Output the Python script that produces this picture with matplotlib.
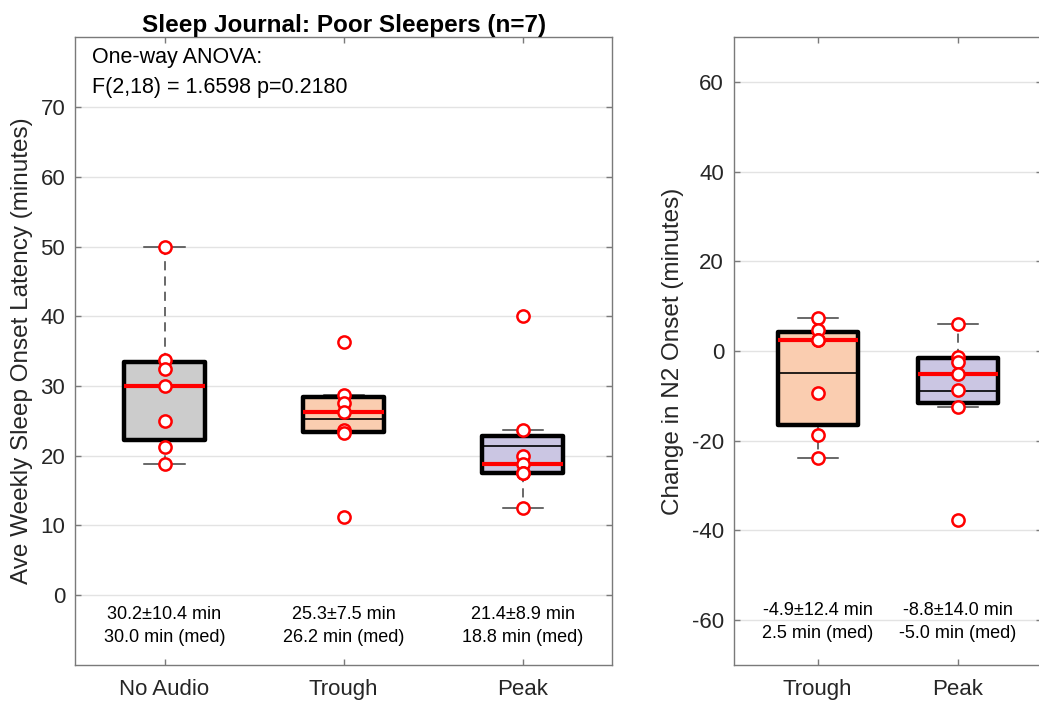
import numpy as np
import matplotlib
matplotlib.use("Agg")
import matplotlib.pyplot as plt

plt.rcParams['font.family'] = ['Liberation Sans', 'DejaVu Sans']
plt.rcParams['axes.unicode_minus'] = False

# weekly sleep onset latency per subject (minutes)
conditions = ['No Audio', 'Trough', 'Peak']
no_audio = [50.0, 33.75, 32.5, 30.0, 25.0, 21.25, 18.75]
trough = [36.25, 28.75, 27.5, 26.25, 23.75, 23.25, 11.25]
peak = [40.0, 23.75, 20.0, 18.75, 17.5, 17.5, 12.5]

# change in N2 onset relative to no audio (minutes)
change_labels = ['Trough', 'Peak']
change_trough = [7.5, 4.75, 2.5, 2.5, -9.25, -18.75, -23.75]
change_peak = [6.0, -1.25, -2.5, -5.0, -8.75, -12.5, -37.75]

anova_text = ['One-way ANOVA:', 'F(2,18) = 1.6598 p=0.2180']

fill_colors = ['#cccccc', '#facdb0', '#cbc6e3']
tick_col = '#262626'
spine_col = '#7a7a7a'


def box_stats(vals):
    v = np.asarray(vals, dtype=float)
    q1, med, q3 = np.percentile(v, [25, 50, 75], method='hazen')
    iqr = q3 - q1
    lo = v[v >= q1 - 1.5 * iqr].min()
    hi = v[v <= q3 + 1.5 * iqr].max()
    return dict(med=med, q1=q1, q3=q3, whislo=lo, whishi=hi,
                mean=v.mean(), fliers=[])


def draw_panel(ax, groups, labels, colors, width, stat_y):
    stats = [box_stats(g) for g in groups]
    pos = np.arange(1, len(groups) + 1)
    bp = ax.bxp(stats, positions=pos, widths=width, capwidths=width * 0.5,
                patch_artist=True, showmeans=True, meanline=True,
                showfliers=False,
                boxprops=dict(linewidth=3.2, edgecolor='black', zorder=2),
                medianprops=dict(color='red', linewidth=3, zorder=4,
                                 solid_capstyle='butt'),
                meanprops=dict(color='black', linestyle='-', linewidth=1.2,
                               zorder=3),
                whiskerprops=dict(color='#404040', linewidth=1.1,
                                  linestyle=(0, (6, 4)), zorder=1.5),
                capprops=dict(color='#404040', linewidth=1.1, zorder=1.5))
    for patch, c in zip(bp['boxes'], colors):
        patch.set_facecolor(c)
        patch.set_joinstyle('round')
    for p, g in zip(pos, groups):
        ax.plot(np.full(len(g), p), g, 'o', ms=8.8, mfc='white', mec='red',
                mew=1.8, zorder=5, clip_on=False)
        g = np.asarray(g, dtype=float)
        ax.text(p, stat_y[0], f"{g.mean():.1f}\u00b1{g.std(ddof=1):.1f} min",
                ha='center', va='baseline', fontsize=13)
        ax.text(p, stat_y[1], f"{np.median(g):.1f} min (med)",
                ha='center', va='baseline', fontsize=13)
    ax.set_xticks(pos)
    ax.set_xticklabels(labels)
    ax.set_xlim(pos[0] - 0.5 - (0.1 if len(groups) == 2 else 0),
                pos[-1] + 0.5 + (0.1 if len(groups) == 2 else 0))
    ax.yaxis.grid(True, color='#e3e3e3', linewidth=1)
    ax.set_axisbelow(True)
    ax.tick_params(direction='in', length=4, width=1, color=spine_col,
                   labelcolor=tick_col, labelsize=16, top=True, right=True)
    ax.tick_params(axis='y', pad=7)
    ax.tick_params(axis='x', pad=10)
    for s in ax.spines.values():
        s.set_color(spine_col)
        s.set_linewidth(1)


fig = plt.figure(figsize=(10.39, 7.01), dpi=100)
ax1 = fig.add_axes([0.0722, 0.0514, 0.5171, 0.8954])
ax2 = fig.add_axes([0.7062, 0.0514, 0.2964, 0.8954])

draw_panel(ax1, [no_audio, trough, peak], conditions, fill_colors, 0.45,
           (-3.45, -6.75))
ax1.set_ylim(-10, 80)
ax1.set_yticks(np.arange(0, 71, 10))
ax1.set_title('Sleep Journal: Poor Sleepers (n=7)', fontsize=17.5,
              fontweight='bold', pad=4)
ax1.set_ylabel('Ave Weekly Sleep Onset Latency (minutes)', fontsize=17.5,
               color=tick_col)
ax1.yaxis.set_label_coords(-0.078, 0.5)
ax1.text(0.032, 0.959, anova_text[0], transform=ax1.transAxes,
         fontsize=15.5, va='baseline')
ax1.text(0.032, 0.911, anova_text[1], transform=ax1.transAxes,
         fontsize=15.5, va='baseline')

draw_panel(ax2, [change_trough, change_peak], change_labels, fill_colors[1:],
           0.57, (-58.9, -63.9))
ax2.set_ylim(-70, 70)
ax2.set_yticks(np.arange(-60, 61, 20))
ax2.set_ylabel('Change in N2 Onset (minutes)', fontsize=17.5, color=tick_col)
ax2.yaxis.set_label_coords(-0.161, 0.5)

fig.savefig('out.png', dpi=100)
